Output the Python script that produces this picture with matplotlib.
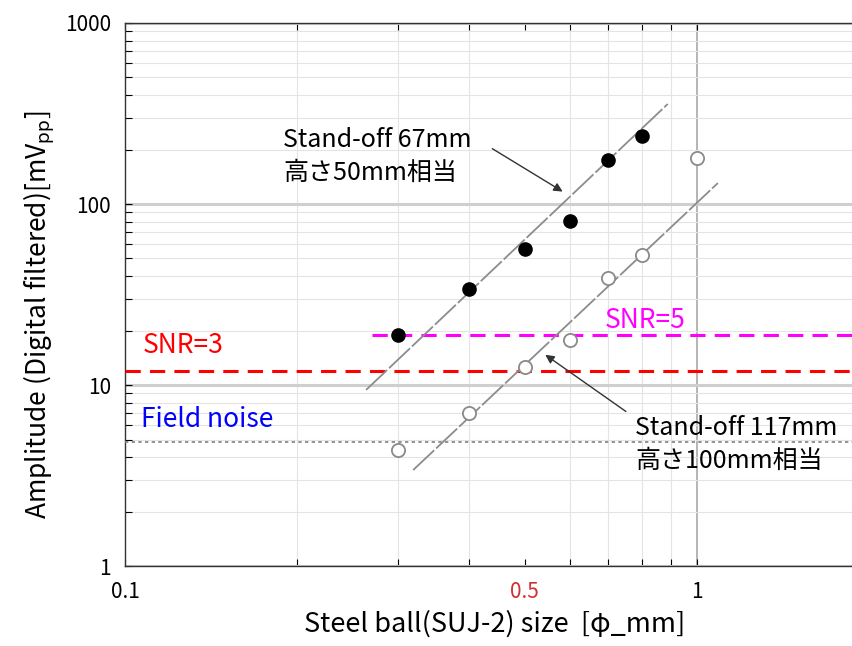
import matplotlib
matplotlib.use("Agg")
import matplotlib.pyplot as plt
from matplotlib.ticker import FixedLocator, NullFormatter

plt.rcParams['font.family'] = ['Noto Sans CJK JP', 'DejaVu Sans']

# ball size [mm]
size_67 = [0.3, 0.4, 0.5, 0.6, 0.7, 0.8]
amp_67 = [18.9, 34, 56.5, 81, 176, 238]
size_117 = [0.3, 0.4, 0.5, 0.6, 0.7, 0.8, 1.0]
amp_117 = [4.4, 7.0, 12.6, 17.7, 39, 52, 180]

# fitted lines (end points)
fit_67_x = [0.264, 0.889]
fit_67_y = [9.4, 357]
fit_117_x = [0.319, 1.088]
fit_117_y = [3.39, 130.6]

snr3 = 11.9
snr5 = 19.0
snr5_start = 0.27
field_noise = 4.85

x_min, x_max = 0.1, 1.874
y_min, y_max = 1, 1000
xtick_vals = [0.1, 0.5, 1]
xtick_labels = ['0.1', '0.5', '1']
ytick_vals = [1, 10, 100, 1000]
ytick_labels = ['1', '10', '100', '1000']

fig = plt.figure(figsize=(8.53, 6.46), dpi=100)
ax = fig.add_axes([0.1465, 0.1238, 0.8535, 0.8406])
ax.set_xscale('log')
ax.set_yscale('log')
ax.set_xlim(x_min, x_max)
ax.set_ylim(y_min, y_max)

# grid
ax.grid(which='minor', color='#e4e4e4', lw=0.8, ls='-')
ax.grid(which='major', axis='y', color='#cfcfcf', lw=2.2)
ax.axvline(1.0, color='#a8a8a8', lw=1.2, zorder=1)

# reference levels
ax.plot([x_min, x_max], [snr3, snr3], color='red', lw=2.2, ls=(0, (5, 3)), zorder=3)
ax.plot([snr5_start, x_max], [snr5, snr5], color='magenta', lw=2.2, ls=(0, (5, 3)), zorder=3)
ax.plot([x_min, x_max], [field_noise, field_noise], color='#808080', lw=1.2, ls=(0, (2, 2)), zorder=3)

# fits
ax.plot(fit_67_x, fit_67_y, color='#8c8c8c', lw=1.3, ls=(0, (16, 1.5)), zorder=4)
ax.plot(fit_117_x, fit_117_y, color='#8c8c8c', lw=1.3, ls=(0, (16, 1.5)), zorder=4)

# data points
ax.plot(size_67, amp_67, 'o', color='black', ms=9.5, zorder=5)
ax.plot(size_117, amp_117, 'o', mfc='white', mec='#8a8a8a', mew=1.3, ms=9.5, zorder=5)

# texts
ax.text(0.1075, 15.0, 'SNR=3', color='red', fontsize=19)
ax.text(0.69, 20.6, 'SNR=5', color='magenta', fontsize=19)
ax.text(0.1066, 5.86, 'Field noise', color='blue', fontsize=19)

ax.text(0.189, 206, 'Stand-off 67mm', fontsize=18)
ax.text(0.189, 136, '高さ50mm相当', fontsize=18)
ax.annotate('', xy=(0.588, 115), xytext=(0.4345, 206),
            arrowprops=dict(arrowstyle='-|>', color='#333333', lw=1.0, mutation_scale=13))
ax.text(0.779, 5.30, 'Stand-off 117mm', fontsize=18)
ax.text(0.779, 3.48, '高さ100mm相当', fontsize=18)
ax.annotate('', xy=(0.538, 15.0), xytext=(0.758, 7.0),
            arrowprops=dict(arrowstyle='-|>', color='#333333', lw=1.0, mutation_scale=13))

# ticks
ax.xaxis.set_major_locator(FixedLocator(xtick_vals))
ax.set_xticklabels(xtick_labels)
ax.xaxis.set_minor_locator(FixedLocator([0.2, 0.3, 0.4, 0.5, 0.6, 0.7, 0.8, 0.9]))
ax.xaxis.set_minor_formatter(NullFormatter())
ax.yaxis.set_major_locator(FixedLocator(ytick_vals))
ax.set_yticklabels(ytick_labels)
ax.tick_params(which='both', direction='in', top=True, right=False, labelsize=15,
               length=5, width=0.8)
ax.tick_params(axis='x', pad=11)
ax.tick_params(axis='y', pad=10)
for lab in ax.get_xticklabels():
    if lab.get_text() == '0.5':
        lab.set_color('#d03030')

ax.spines['right'].set_visible(False)
for s in ['left', 'top', 'bottom']:
    ax.spines[s].set_linewidth(1.0)
    ax.spines[s].set_color('#333333')

ax.set_xlabel('Steel ball(SUJ-2) size  [φ_mm]', fontsize=19.5)
ax.xaxis.set_label_coords(0.508, -0.082)
ax.set_ylabel(r'Amplitude (Digital filtered)[mV$_{\rm pp}$]', fontsize=19)
ax.yaxis.set_label_coords(-0.094, 0.463)

fig.savefig('out.png', dpi=100)
